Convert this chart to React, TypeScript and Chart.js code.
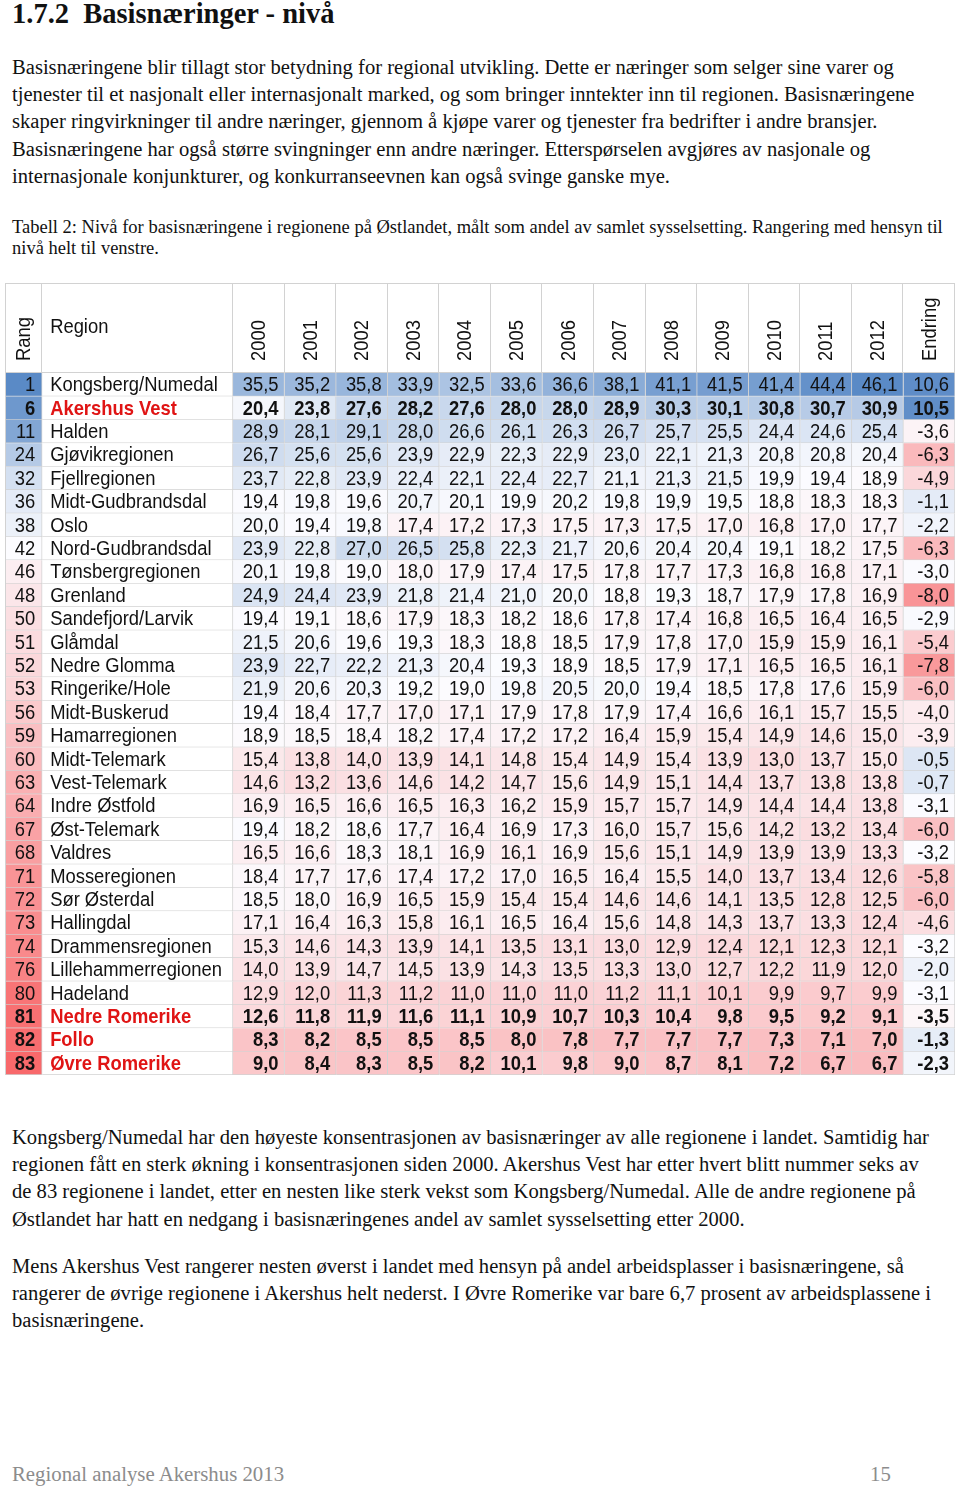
import React, { useEffect, useRef } from "react";
import { Chart, registerables } from "chart.js";
Chart.register(...registerables);

const ranks = [1, 6, 11, 24, 32, 36, 38, 42, 46, 48, 50, 51, 52, 53, 56, 59, 60, 63, 64, 67, 68, 71, 72, 73, 74, 76, 80, 81, 82, 83];
const regions = [
  "Kongsberg/Numedal", "Akershus Vest", "Halden", "Gjøvikregionen", "Fjellregionen", "Midt-Gudbrandsdal",
  "Oslo", "Nord-Gudbrandsdal", "Tønsbergregionen", "Grenland", "Sandefjord/Larvik", "Glåmdal",
  "Nedre Glomma", "Ringerike/Hole", "Midt-Buskerud", "Hamarregionen", "Midt-Telemark", "Vest-Telemark",
  "Indre Østfold", "Øst-Telemark", "Valdres", "Mosseregionen", "Sør Østerdal", "Hallingdal",
  "Drammensregionen", "Lillehammerregionen", "Hadeland", "Nedre Romerike", "Follo", "Øvre Romerike",
];
const highlighted = ["Akershus Vest", "Nedre Romerike", "Follo", "Øvre Romerike"];
const years = ["2000", "2001", "2002", "2003", "2004", "2005", "2006", "2007", "2008", "2009", "2010", "2011", "2012"];

const v2000 = [35.5, 20.4, 28.9, 26.7, 23.7, 19.4, 20.0, 23.9, 20.1, 24.9, 19.4, 21.5, 23.9, 21.9, 19.4, 18.9, 15.4, 14.6, 16.9, 19.4, 16.5, 18.4, 18.5, 17.1, 15.3, 14.0, 12.9, 12.6, 8.3, 9.0];
const v2001 = [35.2, 23.8, 28.1, 25.6, 22.8, 19.8, 19.4, 22.8, 19.8, 24.4, 19.1, 20.6, 22.7, 20.6, 18.4, 18.5, 13.8, 13.2, 16.5, 18.2, 16.6, 17.7, 18.0, 16.4, 14.6, 13.9, 12.0, 11.8, 8.2, 8.4];
const v2002 = [35.8, 27.6, 29.1, 25.6, 23.9, 19.6, 19.8, 27.0, 19.0, 23.9, 18.6, 19.6, 22.2, 20.3, 17.7, 18.4, 14.0, 13.6, 16.6, 18.6, 18.3, 17.6, 16.9, 16.3, 14.3, 14.7, 11.3, 11.9, 8.5, 8.3];
const v2003 = [33.9, 28.2, 28.0, 23.9, 22.4, 20.7, 17.4, 26.5, 18.0, 21.8, 17.9, 19.3, 21.3, 19.2, 17.0, 18.2, 13.9, 14.6, 16.5, 17.7, 18.1, 17.4, 16.5, 15.8, 13.9, 14.5, 11.2, 11.6, 8.5, 8.5];
const v2004 = [32.5, 27.6, 26.6, 22.9, 22.1, 20.1, 17.2, 25.8, 17.9, 21.4, 18.3, 18.3, 20.4, 19.0, 17.1, 17.4, 14.1, 14.2, 16.3, 16.4, 16.9, 17.2, 15.9, 16.1, 14.1, 13.9, 11.0, 11.1, 8.5, 8.2];
const v2005 = [33.6, 28.0, 26.1, 22.3, 22.4, 19.9, 17.3, 22.3, 17.4, 21.0, 18.2, 18.8, 19.3, 19.8, 17.9, 17.2, 14.8, 14.7, 16.2, 16.9, 16.1, 17.0, 15.4, 16.5, 13.5, 14.3, 11.0, 10.9, 8.0, 10.1];
const v2006 = [36.6, 28.0, 26.3, 22.9, 22.7, 20.2, 17.5, 21.7, 17.5, 20.0, 18.6, 18.5, 18.9, 20.5, 17.8, 17.2, 15.4, 15.6, 15.9, 17.3, 16.9, 16.5, 15.4, 16.4, 13.1, 13.5, 11.0, 10.7, 7.8, 9.8];
const v2007 = [38.1, 28.9, 26.7, 23.0, 21.1, 19.8, 17.3, 20.6, 17.8, 18.8, 17.8, 17.9, 18.5, 20.0, 17.9, 16.4, 14.9, 14.9, 15.7, 16.0, 15.6, 16.4, 14.6, 15.6, 13.0, 13.3, 11.2, 10.3, 7.7, 9.0];
const v2008 = [41.1, 30.3, 25.7, 22.1, 21.3, 19.9, 17.5, 20.4, 17.7, 19.3, 17.4, 17.8, 17.9, 19.4, 17.4, 15.9, 15.4, 15.1, 15.7, 15.7, 15.1, 15.5, 14.6, 14.8, 12.9, 13.0, 11.1, 10.4, 7.7, 8.7];
const v2009 = [41.5, 30.1, 25.5, 21.3, 21.5, 19.5, 17.0, 20.4, 17.3, 18.7, 16.8, 17.0, 17.1, 18.5, 16.6, 15.4, 13.9, 14.4, 14.9, 15.6, 14.9, 14.0, 14.1, 14.3, 12.4, 12.7, 10.1, 9.8, 7.7, 8.1];
const v2010 = [41.4, 30.8, 24.4, 20.8, 19.9, 18.8, 16.8, 19.1, 16.8, 17.9, 16.5, 15.9, 16.5, 17.8, 16.1, 14.9, 13.0, 13.7, 14.4, 14.2, 13.9, 13.7, 13.5, 13.7, 12.1, 12.2, 9.9, 9.5, 7.3, 7.2];
const v2011 = [44.4, 30.7, 24.6, 20.8, 19.4, 18.3, 17.0, 18.2, 16.8, 17.8, 16.4, 15.9, 16.5, 17.6, 15.7, 14.6, 13.7, 13.8, 14.4, 13.2, 13.9, 13.4, 12.8, 13.3, 12.3, 11.9, 9.7, 9.2, 7.1, 6.7];
const v2012 = [46.1, 30.9, 25.4, 20.4, 18.9, 18.3, 17.7, 17.5, 17.1, 16.9, 16.5, 16.1, 16.1, 15.9, 15.5, 15.0, 15.0, 13.8, 13.8, 13.4, 13.3, 12.6, 12.5, 12.4, 12.1, 12.0, 9.9, 9.1, 7.0, 6.7];
const endring = [10.6, 10.5, -3.6, -6.3, -4.9, -1.1, -2.2, -6.3, -3.0, -8.0, -2.9, -5.4, -7.8, -6.0, -4.0, -3.9, -0.5, -0.7, -3.1, -6.0, -3.2, -5.8, -6.0, -4.6, -3.2, -2.0, -3.1, -3.5, -1.3, -2.3];

const yearSeries = [v2000, v2001, v2002, v2003, v2004, v2005, v2006, v2007, v2008, v2009, v2010, v2011, v2012];

// layout (column widths in scale units)
const RANK_W = 0.72;
const REGION_W = 3.7;
const YEAR0 = RANK_W + REGION_W;
const TOTAL = YEAR0 + years.length + 1;
const HEADER_H = 90;
const STRETCH = 1.07;

const RED = [248, 105, 107];
const WHITE = [252, 252, 255];
const BLUE = [90, 138, 198];
function mix(a: number[], b: number[], t: number) {
  const c = a.map((v, i) => Math.round(v + (b[i] - v) * t));
  return `rgb(${c[0]},${c[1]},${c[2]})`;
}
function scale3(v: number, lo: number, mid: number, hi: number) {
  if (v >= mid) return mix(WHITE, BLUE, Math.min(1, (v - mid) / (hi - mid)));
  return mix(WHITE, RED, Math.min(1, (mid - v) / (mid - lo)));
}
const fmt = (v: number) => v.toFixed(1).replace(".", ",");
const FONT = '"Liberation Sans", Arial, sans-serif';

export default function App() {
  const ref = useRef<HTMLCanvasElement>(null);
  useEffect(() => {
    const canvas = ref.current!;
    const rowBar = (s: number, e: number) => regions.map(() => [s, e]);
    const datasets: any[] = [
      { label: "Rang", kind: "rank", data: rowBar(0, RANK_W), backgroundColor: ranks.map((r) => scale3(-r, -83, -42, -1)) },
      { label: "Region", kind: "region", data: rowBar(RANK_W, YEAR0), backgroundColor: "#ffffff" },
      ...years.map((y, k) => ({
        label: y, kind: "year", values: yearSeries[k],
        data: rowBar(YEAR0 + k, YEAR0 + k + 1),
        backgroundColor: yearSeries[k].map((v) => scale3(v, -9.5, 19.2, 46.1)),
      })),
      {
        label: "Endring", kind: "year", values: endring,
        data: rowBar(YEAR0 + years.length, TOTAL),
        backgroundColor: endring.map((v) => scale3(v, -10, -3.2, 11)),
      },
    ].map((d) => ({
      ...d, grouped: false, barPercentage: 1, categoryPercentage: 1, borderSkipped: false,
      borderWidth: { top: 0, left: 0, right: 1, bottom: 1 }, borderColor: "#d2d2d2",
    }));

    const tablePlugin = {
      id: "tableText",
      afterDatasetsDraw(chart: any) {
        const ctx = chart.ctx as CanvasRenderingContext2D;
        const area = chart.chartArea;
        const xs = chart.scales.x;
        const top = area.top - HEADER_H;
        ctx.save();
        ctx.strokeStyle = "#d2d2d2";
        ctx.lineWidth = 1;
        ctx.beginPath();
        const bounds = [0, RANK_W, YEAR0, ...years.map((_, k) => YEAR0 + k + 1), TOTAL];
        bounds.forEach((b, i) => {
          let px = Math.round(xs.getPixelForValue(b)) - 0.5;
          if (i === 0) px += 1;
          ctx.moveTo(px, top);
          ctx.lineTo(px, i === 0 ? area.bottom : area.top);
        });
        ctx.moveTo(area.left, top + 0.5);
        ctx.lineTo(area.right, top + 0.5);
        ctx.moveTo(area.left, area.top - 0.5);
        ctx.lineTo(area.right, area.top - 0.5);
        ctx.stroke();

        const txt = (s: string, x: number, y: number, align: CanvasTextAlign, rot = 0) => {
          ctx.save();
          ctx.translate(x, y);
          if (rot) ctx.rotate(rot);
          ctx.scale(1, STRETCH);
          ctx.textAlign = align;
          ctx.textBaseline = "middle";
          ctx.fillText(s, 0, 0);
          ctx.restore();
        };
        ctx.fillStyle = "#111";
        ctx.font = `18.4px ${FONT}`;
        const hb = area.top - 12;
        txt("Rang", (xs.getPixelForValue(0) + xs.getPixelForValue(RANK_W)) / 2 + 1, hb, "left", -Math.PI / 2);
        txt("Region", xs.getPixelForValue(RANK_W) + 8, top + 45, "left");
        years.forEach((y, k) => txt(y, xs.getPixelForValue(YEAR0 + k + 0.5) + 1, hb, "left", -Math.PI / 2));
        txt("Endring", xs.getPixelForValue(YEAR0 + years.length + 0.5) + 1, hb, "left", -Math.PI / 2);

        chart.data.datasets.forEach((ds: any, di: number) => {
          const meta = chart.getDatasetMeta(di);
          meta.data.forEach((el: any, j: number) => {
            const p = el.getProps(["x", "y", "base"], true);
            const left = Math.min(p.x, p.base);
            const right = Math.max(p.x, p.base);
            const bold = highlighted.includes(regions[j]);
            ctx.font = `${bold ? "bold " : ""}18.4px ${FONT}`;
            ctx.fillStyle = "#111";
            const cy = p.y + 1;
            if (ds.kind === "rank") {
              txt(String(ranks[j]), right - 7, cy, "right");
            } else if (ds.kind === "region") {
              if (bold) ctx.fillStyle = "#e01414";
              txt(regions[j], left + 8, cy, "left");
            } else {
              txt(fmt(ds.values[j]), right - 6, cy, "right");
            }
          });
        });
        ctx.restore();
      },
    };

    const chart = new Chart(canvas, {
      type: "bar",
      data: { labels: regions, datasets },
      options: {
        indexAxis: "y",
        responsive: false,
        animation: false,
        devicePixelRatio: 1,
        layout: { padding: { left: 5, right: 5, top: 95, bottom: 3 } },
        plugins: { legend: { display: false }, tooltip: { enabled: false } },
        scales: {
          x: { type: "linear", min: 0, max: TOTAL, display: false },
          y: { type: "category", display: false, offset: true },
        },
      } as any,
      plugins: [tablePlugin],
    });
    return () => chart.destroy();
  }, []);

  const serif = '"Liberation Serif", "Times New Roman", serif';
  const Line = ({ c, t, size = 20.6, color = "#111", left = 12, bold = false, sy = 1.05 }: any) => (
    <div
      style={{
        position: "absolute", left, top: c - size * 0.6, height: size * 1.2, lineHeight: `${size * 1.2}px`,
        fontSize: size, fontFamily: serif, whiteSpace: "pre", color, fontWeight: bold ? "bold" : "normal",
        transform: `scaleY(${sy})`, transformOrigin: "left center",
      }}
    >
      {t}
    </div>
  );
  const p1 = [
    "Basisnæringene blir tillagt stor betydning for regional utvikling. Dette er næringer som selger sine varer og",
    "tjenester til et nasjonalt eller internasjonalt marked, og som bringer inntekter inn til regionen. Basisnæringene",
    "skaper ringvirkninger til andre næringer, gjennom å kjøpe varer og tjenester fra bedrifter i andre bransjer.",
    "Basisnæringene har også større svingninger enn andre næringer. Etterspørselen avgjøres av nasjonale og",
    "internasjonale konjunkturer, og konkurranseevnen kan også svinge ganske mye.",
  ];
  const cap = [
    "Tabell 2: Nivå for basisnæringene i regionene på Østlandet, målt som andel av samlet sysselsetting. Rangering med hensyn til",
    "nivå helt til venstre.",
  ];
  const p2 = [
    "Kongsberg/Numedal har den høyeste konsentrasjonen av basisnæringer av alle regionene i landet. Samtidig har",
    "regionen fått en sterk økning i konsentrasjonen siden 2000. Akershus Vest har etter hvert blitt nummer seks av",
    "de 83 regionene i landet, etter en nesten like sterk vekst som Kongsberg/Numedal. Alle de andre regionene på",
    "Østlandet har hatt en nedgang i basisnæringenes andel av samlet sysselsetting etter 2000.",
  ];
  const p3 = [
    "Mens Akershus Vest rangerer nesten øverst i landet med hensyn på andel arbeidsplasser i basisnæringene, så",
    "rangerer de øvrige regionene i Akershus helt nederst. I Øvre Romerike var bare 6,7 prosent av arbeidsplassene i",
    "basisnæringene.",
  ];
  return (
    <div style={{ position: "absolute", left: 0, top: 0, width: 960, height: 1486, overflow: "hidden", background: "#fff" }}>
      <Line c={14} t="1.7.2  Basisnæringer - nivå" size={28.5} bold sy={1} />
      {p1.map((t, i) => <Line key={"a" + i} c={67 + i * 27.3} t={t} />)}
      {cap.map((t, i) => <Line key={"b" + i} c={227 + i * 21.5} t={t} size={18.5} sy={1} />)}
      <canvas ref={ref} width={960} height={800} style={{ position: "absolute", left: 0, top: 278, width: 960, height: 800 }} />
      {p2.map((t, i) => <Line key={"c" + i} c={1137 + i * 27.3} t={t} />)}
      {p3.map((t, i) => <Line key={"d" + i} c={1266 + i * 27.3} t={t} />)}
      <Line c={1474} t="Regional analyse Akershus 2013" color="#8c8c8c" size={20.8} sy={1} />
      <Line c={1474} t="15" color="#8c8c8c" left={870} size={20.8} sy={1} />
    </div>
  );
}
